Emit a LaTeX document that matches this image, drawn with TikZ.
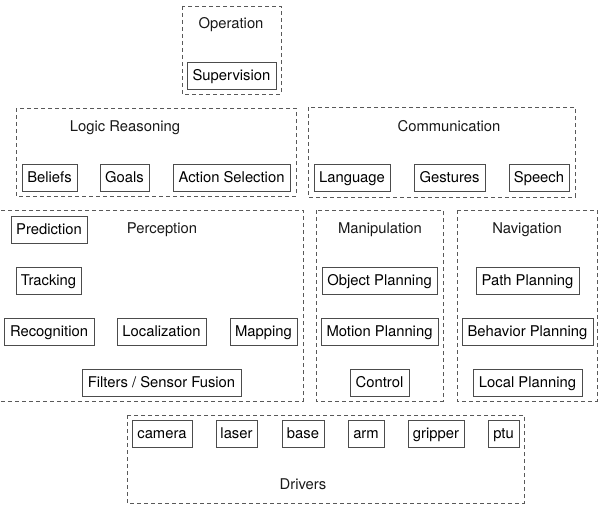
\documentclass[tikz,border=0pt]{standalone}
\usepackage{fontspec}
\setmainfont{TeX Gyre Heros}
\begin{document}
\begin{tikzpicture}[x=1pt,y=-1pt,
  every node/.style={font=\fontsize{14.8}{17}\selectfont, inner sep=0pt, text height=10.8pt, text depth=3.2pt},
  item/.style={draw=black!70, line width=0.9pt, fill=white, text height=11.6pt, text depth=1.2pt},
  grp/.style={draw=black!65, line width=0.9pt, dash pattern=on 4pt off 3pt},
  lbl/.style={text=black!90}]
\useasboundingbox (0,0) rectangle (604,511);
\newcommand{\itm}[6]{\node[item, minimum width={#4-#2}, minimum height={#5-#3}] (#1) at ({(#2+#4)/2},{(#3+#5)/2}) {#6};}
\newcommand{\grpbox}[5]{\draw[grp] (#2,#3) rectangle (#4,#5) coordinate (#1);}
% Operation
\grpbox{gop}{182}{6}{281}{94}
\node[lbl] (op) at (231,25) {Operation};
\itm{sup}{187}{62}{276}{89}{Supervision}
% Logic Reasoning
\grpbox{glr}{16}{108}{296}{196}
\node[lbl] (lr) at (125,128) {Logic Reasoning};
\itm{bel}{22}{164}{77}{191}{Beliefs}
\itm{goa}{100}{164}{149}{191}{Goals}
\itm{act}{173}{164}{290}{191}{Action Selection}
% Communication
\grpbox{gcm}{308}{107}{575}{197}
\node[lbl] (cm) at (449,127.5) {Communication};
\itm{lan}{314}{164}{390}{191}{Language}
\itm{ges}{414}{164}{485}{191}{Gestures}
\itm{spe}{509}{164}{569}{191}{Speech}
% Perception
\grpbox{gpe}{-4}{210}{303}{401}
\node[lbl] (pe) at (162,230) {Perception};
\itm{pre}{11}{216}{87}{243}{Prediction}
\itm{tra}{16}{267}{81}{294}{Tracking}
\itm{rec}{4}{318}{94}{345}{Recognition}
\itm{loc}{117}{318}{206}{345}{Localization}
\itm{map}{230}{318}{297}{345}{Mapping}
\itm{fil}{82}{369}{241}{396}{Filters / Sensor Fusion}
% Manipulation
\grpbox{gma}{316}{210}{443}{401}
\node[lbl] (ma) at (380,230) {Manipulation};
\itm{obj}{322}{267}{437}{294}{Object Planning}
\itm{mot}{321}{318}{438}{345}{Motion Planning}
\itm{con}{350}{369}{409}{396}{Control}
% Navigation
\grpbox{gna}{457}{210}{597}{401}
\node[lbl] (na) at (527,230) {Navigation};
\itm{pat}{476}{267}{579}{294}{Path Planning}
\itm{beh}{462}{318}{593}{345}{Behavior Planning}
\itm{lpl}{473}{369}{582}{396}{Local Planning}
% Drivers
\grpbox{gdr}{127}{415}{524}{503}
\node[lbl] (dr) at (303,486) {Drivers};
\itm{cam}{132}{420}{192}{447}{camera}
\itm{las}{216}{420}{257}{447}{laser}
\itm{bas}{282}{420}{324}{447}{base}
\itm{arm}{348}{420}{384}{447}{arm}
\itm{gri}{408}{420}{464}{447}{gripper}
\itm{ptu}{488}{420}{519}{447}{ptu}
\end{tikzpicture}
\end{document}
